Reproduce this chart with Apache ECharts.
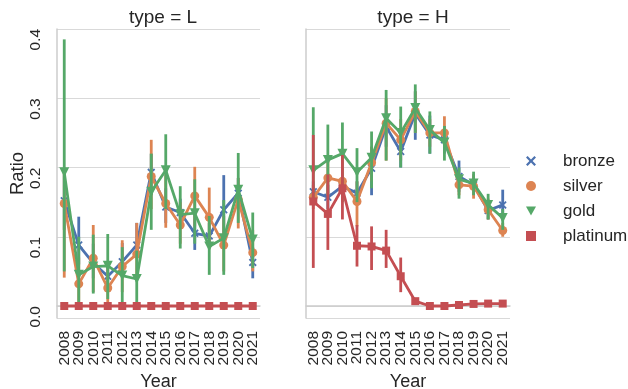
<!DOCTYPE html>
<html>
<head>
<meta charset="utf-8">
<script src="https://cdn.jsdelivr.net/npm/echarts@6/dist/echarts.min.js"></script>
<style>
  html, body { margin: 0; padding: 0; background: #fff; }
  #chart { width: 628px; height: 389px; }
</style>
</head>
<body>
<div id="chart"></div>
<script>
// Categories
const years = ['2008','2009','2010','2011','2012','2013','2014','2015','2016','2017','2018','2019','2020','2021'];
const yTicks = [0.0, 0.1, 0.2, 0.3, 0.4];

// type = L : mean ratio and 95% interval bounds per medal
const lBronze   = [0.152, 0.088, 0.062, 0.043, 0.064, 0.088, 0.193, 0.143, 0.135, 0.105, 0.101, 0.139, 0.163, 0.063];
const lBronzeLo = [0.110, 0.060, 0.040, 0.025, 0.045, 0.070, 0.160, 0.120, 0.120, 0.081, 0.085, 0.100, 0.140, 0.040];
const lBronzeHi = [0.190, 0.129, 0.090, 0.065, 0.091, 0.120, 0.220, 0.170, 0.155, 0.130, 0.120, 0.189, 0.185, 0.085];

const lSilver   = [0.148, 0.032, 0.069, 0.026, 0.057, 0.075, 0.187, 0.148, 0.117, 0.159, 0.128, 0.088, 0.154, 0.077];
const lSilverLo = [0.041, 0.000, 0.020, 0.005, 0.020, 0.040, 0.140, 0.113, 0.090, 0.115, 0.090, 0.050, 0.112, 0.050];
const lSilverHi = [0.200, 0.070, 0.117, 0.062, 0.095, 0.120, 0.240, 0.190, 0.150, 0.201, 0.171, 0.130, 0.185, 0.110];

const lGold     = [0.193, 0.045, 0.057, 0.058, 0.044, 0.039, 0.165, 0.196, 0.132, 0.134, 0.086, 0.098, 0.168, 0.096];
const lGoldLo   = [0.050, 0.000, 0.018, 0.010, 0.000, 0.000, 0.110, 0.140, 0.083, 0.090, 0.045, 0.045, 0.120, 0.055];
const lGoldHi   = [0.385, 0.100, 0.103, 0.104, 0.085, 0.080, 0.220, 0.248, 0.173, 0.183, 0.130, 0.153, 0.221, 0.135];

const lPlat     = [0, 0, 0, 0, 0, 0, 0, 0, 0, 0, 0, 0, 0, 0];
const lPlatLo   = [null, null, null, null, null, null, null, null, null, null, null, null, null, null];
const lPlatHi   = [null, null, null, null, null, null, null, null, null, null, null, null, null, null];

// type = H
const hBronze   = [0.165, 0.157, 0.173, 0.163, 0.199, 0.259, 0.223, 0.278, 0.247, 0.240, 0.187, 0.175, 0.138, 0.146];
const hBronzeLo = [0.150, 0.140, 0.155, 0.150, 0.160, 0.230, 0.200, 0.240, 0.220, 0.220, 0.165, 0.160, 0.125, 0.130];
const hBronzeHi = [0.180, 0.175, 0.190, 0.180, 0.230, 0.290, 0.255, 0.310, 0.275, 0.260, 0.210, 0.190, 0.150, 0.168];

const hSilver   = [0.157, 0.185, 0.180, 0.151, 0.207, 0.264, 0.240, 0.281, 0.250, 0.250, 0.175, 0.173, 0.139, 0.109];
const hSilverLo = [0.140, 0.160, 0.160, 0.115, 0.180, 0.210, 0.210, 0.250, 0.230, 0.230, 0.160, 0.155, 0.125, 0.100];
const hSilverHi = [0.175, 0.210, 0.200, 0.180, 0.230, 0.300, 0.270, 0.310, 0.270, 0.274, 0.190, 0.190, 0.155, 0.120];

const hGold     = [0.196, 0.211, 0.220, 0.193, 0.214, 0.271, 0.250, 0.286, 0.254, 0.236, 0.183, 0.177, 0.146, 0.127];
const hGoldLo   = [0.145, 0.160, 0.150, 0.150, 0.170, 0.210, 0.200, 0.250, 0.220, 0.210, 0.155, 0.160, 0.125, 0.110];
const hGoldHi   = [0.287, 0.262, 0.265, 0.228, 0.252, 0.312, 0.288, 0.320, 0.281, 0.260, 0.200, 0.194, 0.162, 0.140];

const hPlat     = [0.151, 0.133, 0.170, 0.087, 0.086, 0.080, 0.043, 0.007, 0.000, 0.000, 0.0015, 0.003, 0.0035, 0.0035];
const hPlatLo   = [0.055, 0.081, 0.125, 0.057, 0.052, 0.055, 0.020, 0.004, null, null, null, null, null, null];
const hPlatHi   = [0.247, 0.190, 0.218, 0.117, 0.115, 0.110, 0.070, 0.010, null, null, null, null, null, null];

const medals = ['bronze', 'silver', 'gold', 'platinum'];
const colors = ['#4c72b0', '#dd8452', '#55a868', '#c44e52'];
const symX = 'path://M0,1.6L1.6,0L5,3.4L8.4,0L10,1.6L6.6,5L10,8.4L8.4,10L5,6.6L1.6,10L0,8.4L3.4,5Z';
const symTri = 'path://M0,0L10,0L5,9Z';
const symbols = [symX, 'circle', symTri, 'rect'];
const symbolSizes = [8, 9, 10, 8];

const panels = [
  { means: [lBronze, lSilver, lGold, lPlat], lows: [lBronzeLo, lSilverLo, lGoldLo, lPlatLo], highs: [lBronzeHi, lSilverHi, lGoldHi, lPlatHi] },
  { means: [hBronze, hSilver, hGold, hPlat], lows: [hBronzeLo, hSilverLo, hGoldLo, hPlatLo], highs: [hBronzeHi, hSilverHi, hGoldHi, hPlatHi] }
];

const FONT = '"Liberation Sans", Arial, sans-serif';
const TEXT = '#262626';
const SPINE = '#cccccc';
const GRID = '#d9d9d9';

const series = [];
panels.forEach((p, pi) => {
  medals.forEach((m, mi) => {
    const errData = [];
    p.lows[mi].forEach((lo, i) => {
      if (lo !== null && p.highs[mi][i] !== null) errData.push([i, lo, p.highs[mi][i]]);
    });
    // vertical interval bars
    series.push({
      type: 'custom',
      name: m + ' ci',
      xAxisIndex: pi,
      yAxisIndex: pi,
      z: 2 + mi * 2,
      silent: true,
      data: errData,
      renderItem: function (params, api) {
        const a = api.coord([api.value(0), api.value(1)]);
        const b = api.coord([api.value(0), api.value(2)]);
        return {
          type: 'line',
          shape: { x1: a[0], y1: a[1], x2: b[0], y2: b[1] },
          style: { stroke: colors[mi], lineWidth: 2.8 }
        };
      }
    });
    // point estimates joined by a line
    series.push({
      type: 'line',
      name: m,
      xAxisIndex: pi,
      yAxisIndex: pi,
      z: 3 + mi * 2,
      data: p.means[mi],
      symbol: symbols[mi],
      symbolSize: symbolSizes[mi],
      showAllSymbol: true,
      lineStyle: { color: colors[mi], width: 2.8 },
      itemStyle: { color: colors[mi], borderWidth: 0 },
      emphasis: { disabled: true },
      silent: true
    });
  });
});

function isTick(v) {
  return yTicks.some(t => Math.abs(t - v) < 1e-6);
}

const gridDefs = [
  { left: 57, top: 29, width: 203, height: 289, outerBoundsMode: 'none', containLabel: false },
  { left: 306, top: 29, width: 204, height: 289, outerBoundsMode: 'none', containLabel: false }
];

const chart = echarts.init(document.getElementById('chart'), null, { renderer: 'canvas' });
chart.setOption({
  animation: false,
  backgroundColor: '#ffffff',
  textStyle: { fontFamily: FONT },
  title: [
    { text: 'type = L', left: 158, top: 3, textAlign: 'center',
      textStyle: { fontFamily: FONT, fontSize: 19, fontWeight: 'normal', color: TEXT } },
    { text: 'type = H', left: 408, top: 3, textAlign: 'center',
      textStyle: { fontFamily: FONT, fontSize: 19, fontWeight: 'normal', color: TEXT } }
  ],
  legend: {
    orient: 'vertical',
    left: 521,
    top: 146,
    itemWidth: 10,
    itemHeight: 10,
    itemGap: 5,
    selectedMode: false,
    data: medals.map((m, i) => ({ name: m, icon: symbols[i] })),
    textStyle: { fontFamily: FONT, fontSize: 17, color: TEXT, lineHeight: 20, padding: [0, 0, 0, 22] }
  },
  grid: gridDefs,
  xAxis: [0, 1].map(i => ({
    type: 'category',
    gridIndex: i,
    data: years,
    boundaryGap: true,
    name: 'Year',
    nameLocation: 'middle',
    nameGap: 52,
    nameTextStyle: { fontFamily: FONT, fontSize: 18, color: TEXT },
    axisLine: { show: true, lineStyle: { color: SPINE, width: 1.5 } },
    axisTick: { show: false },
    axisLabel: { rotate: 90, margin: 13, fontFamily: FONT, fontSize: 15.5, color: TEXT, interval: 0 },
    splitLine: { show: false }
  })),
  yAxis: [0, 1].map(i => ({
    type: 'value',
    gridIndex: i,
    min: -0.0173,
    max: 0.4,
    splitNumber: 4,
    name: i === 0 ? 'Ratio' : '',
    nameLocation: 'middle',
    nameRotate: 90,
    nameGap: 30,
    nameTextStyle: { fontFamily: FONT, fontSize: 18.5, color: TEXT },
    axisLine: { show: true, lineStyle: { color: SPINE, width: 1.5 } },
    axisTick: { show: false },
    axisLabel: {
      show: i === 0,
      rotate: 90,
      align: 'right',
      verticalAlign: 'middle',
      margin: 21,
      showMinLabel: false,
      fontFamily: FONT,
      fontSize: 15.5,
      color: TEXT,
      formatter: v => isTick(v) ? v.toFixed(1) : ''
    },
    splitLine: { show: true, lineStyle: { color: GRID, width: 1.2 } }
  })),
  series: series
});
</script>
</body>
</html>
